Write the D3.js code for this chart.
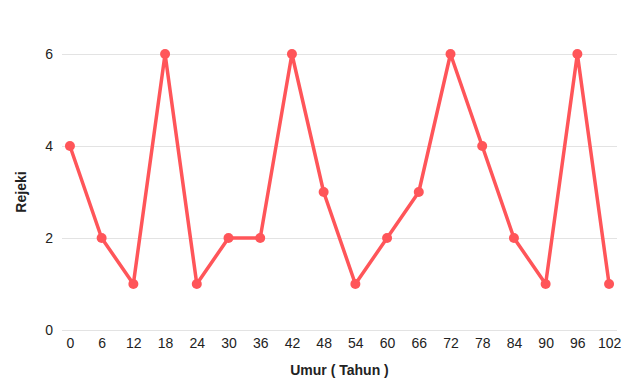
<!DOCTYPE html>
<html>
<head>
<meta charset="utf-8">
<script src="https://cdn.jsdelivr.net/npm/d3@7"></script>
<style>
  body { margin: 0; background: #fff; }
  text { font-family: "Liberation Sans", Arial, sans-serif; }
</style>
</head>
<body>
<div id="chart-area"></div>
<script>
// data
var umur = [0, 6, 12, 18, 24, 30, 36, 42, 48, 54, 60, 66, 72, 78, 84, 90, 96, 102];
var rejeki = [4, 2, 1, 6, 1, 2, 2, 6, 3, 1, 2, 3, 6, 4, 2, 1, 6, 1];
var yTicks = [0, 2, 4, 6];

var margin = {top: 54, right: 23, bottom: 59, left: 62};
var width = 640 - margin.left - margin.right,
    height = 389 - margin.top - margin.bottom;

var svg = d3.select("#chart-area").append("svg")
    .attr("width", 640)
    .attr("height", 389);
var group = svg.append("g")
    .attr("transform", "translate(" + margin.left + "," + margin.top + ")");

// scales
var x = d3.scalePoint()
    .domain(umur)
    .range([0, width])
    .padding(0.25);

var y = d3.scaleLinear()
    .domain([0, 6])
    .range([height, 0]);

// gridlines + y labels
var yAxis = d3.axisLeft(y).tickValues(yTicks).tickFormat(d3.format("d")).tickSize(-width).tickPadding(9);
group.append("g")
    .attr("class", "axis y-axis")
    .call(yAxis)
    .call(function(g) {
        g.select(".domain").remove();
        g.selectAll(".tick line").attr("stroke", "#e3e3e3").attr("stroke-width", 1);
        g.selectAll(".tick text").attr("font-size", 14).attr("fill", "#222");
    });

// x labels
var xAxis = d3.axisBottom(x).tickSize(0).tickPadding(8);
group.append("g")
    .attr("class", "axis x-axis")
    .attr("transform", "translate(0," + height + ")")
    .call(xAxis)
    .call(function(g) {
        g.select(".domain").remove();
        g.selectAll(".tick text").attr("font-size", 14).attr("fill", "#222");
    });

// line
var points = umur.map(function(d, i) { return {umur: d, rejeki: rejeki[i]}; });
var line = d3.line()
    .x(function(d) { return x(d.umur); })
    .y(function(d) { return y(d.rejeki); });

group.append("path")
    .datum(points)
    .attr("fill", "none")
    .attr("stroke", "#ff5559")
    .attr("stroke-width", 3.5)
    .attr("stroke-linejoin", "round")
    .attr("d", line);

group.selectAll("circle").data(points)
    .enter().append("circle")
    .attr("cx", function(d) { return x(d.umur); })
    .attr("cy", function(d) { return y(d.rejeki); })
    .attr("r", 5)
    .attr("fill", "#ff5559");

// axis titles
svg.append("text")
    .attr("x", margin.left + width / 2)
    .attr("y", 375)
    .attr("text-anchor", "middle")
    .attr("font-size", 14)
    .attr("font-weight", "bold")
    .attr("fill", "#222")
    .text("Umur ( Tahun )");

svg.append("text")
    .attr("transform", "translate(26," + (margin.top + height / 2) + ") rotate(-90)")
    .attr("text-anchor", "middle")
    .attr("font-size", 14)
    .attr("font-weight", "bold")
    .attr("fill", "#222")
    .text("Rejeki");
</script>
</body>
</html>
